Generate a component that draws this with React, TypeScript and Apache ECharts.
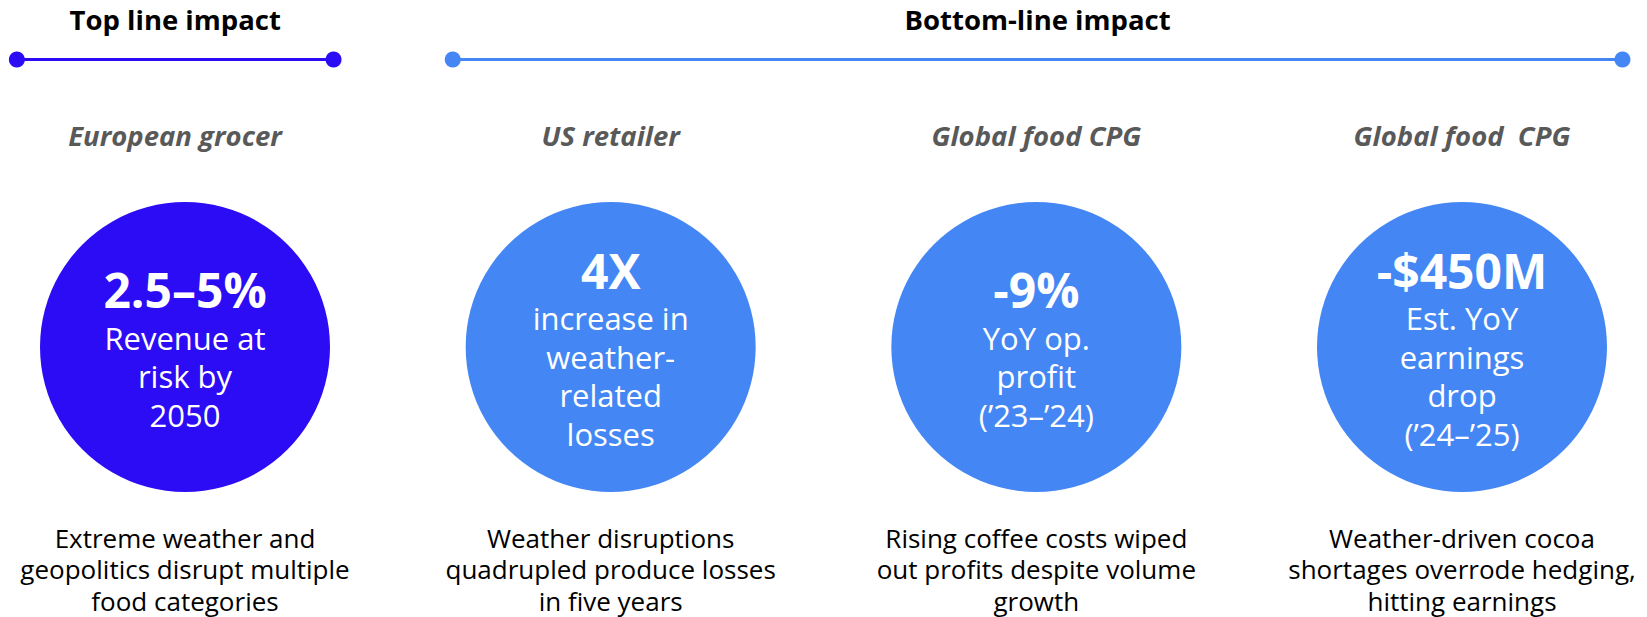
import React, { useEffect, useRef } from "react";
import * as echarts from "echarts";

// ---- data ----
const groupTitles = ["Top line impact", "Bottom-line impact"];
// timeline spans in column units (column index 0..3 = circle centres)
const topLineSpan = [-0.395, 0.349];
const bottomLineSpan = [0.629, 3.377];

const companies = ["European grocer", "US retailer", "Global food CPG", "Global food  CPG"];
const companyGroup = [0, 1, 1, 1];
const headlines = ["2.5–5%", "4X", "-9%", "-$450M"];
const descriptions = [
  ["Revenue at", "risk by", "2050"],
  ["increase in", "weather-", "related", "losses"],
  ["YoY op.", "profit", "(\u201923–\u201924)"],
  ["Est. YoY", "earnings", "drop", "(\u201924–\u201925)"],
];
const captions = [
  ["Extreme weather and", "geopolitics disrupt multiple", "food categories"],
  ["Weather disruptions", "quadrupled produce losses", "in five years"],
  ["Rising coffee costs wiped", "out profits despite volume", "growth"],
  ["Weather-driven cocoa", "shortages overrode hedging,", "hitting earnings"],
];

// ---- layout / style ----
const W = 1647;
const H = 617;
const FONT = "'Open Sans', 'Noto Sans', sans-serif";
const groupColors = ["#2C0BF5", "#4487F4"];
const ROW_HEADER = 19;
const ROW_LINE = 59.5;
const ROW_COMPANY = 135;
const ROW_CIRCLE = 347;
const ROW_CAPTION = 569;
const CIRCLE_D = 290;
const COL_LEFT = 185;
const COL_STEP = (W - 2 * COL_LEFT) / 3;

export default function App() {
  const ref = useRef<HTMLDivElement>(null);

  useEffect(() => {
    document.body.style.margin = "0";
    document.documentElement.style.overflow = "hidden";
    if (!ref.current) return;
    const chart = echarts.init(ref.current, undefined, { renderer: "svg" });

    const spans = [topLineSpan, bottomLineSpan];
    const lineSeries = spans.map((span, g) => ({
      type: "line",
      silent: true,
      clip: false,
      data: span.map((x) => [x, ROW_LINE]),
      symbol: "circle",
      symbolSize: 16,
      showSymbol: true,
      itemStyle: { color: groupColors[g], opacity: 1 },
      lineStyle: { color: groupColors[g], width: 3 },
      emphasis: { disabled: true },
      z: 2,
    }));

    const headerSeries = {
      type: "scatter",
      silent: true,
      clip: false,
      symbolSize: 0,
      itemStyle: { opacity: 1 },
      data: spans.map((span, g) => ({
        value: [(span[0] + span[1]) / 2, ROW_HEADER],
        label: { formatter: groupTitles[g] },
      })),
      label: {
        show: true,
        position: "inside",
        color: "#000",
        fontFamily: FONT,
        fontWeight: "bold",
        fontSize: 27.5,
      },
      emphasis: { disabled: true },
    };

    const companySeries = {
      type: "scatter",
      silent: true,
      clip: false,
      symbolSize: 0,
      itemStyle: { opacity: 1 },
      data: companies.map((c, i) => ({
        value: [i, ROW_COMPANY],
        label: { formatter: c, offset: i === 0 ? [-10, 0] : [0, 0] },
      })),
      label: {
        show: true,
        position: "inside",
        color: "#595959",
        fontFamily: FONT,
        fontWeight: "bold",
        fontStyle: "italic",
        fontSize: 27.5,
      },
      emphasis: { disabled: true },
    };

    const circleSeries = {
      type: "scatter",
      silent: true,
      clip: false,
      symbol: "circle",
      symbolSize: CIRCLE_D,
      itemStyle: { opacity: 1 },
      data: headlines.map((h, i) => ({
        value: [i, ROW_CIRCLE],
        itemStyle: { color: groupColors[companyGroup[i]], opacity: 1 },
        label: {
          formatter: [`{h|${h}}`, ...descriptions[i].map((d) => `{b|${d}}`)].join("\n"),
        },
      })),
      label: {
        show: true,
        position: "inside",
        align: "center",
        verticalAlign: "middle",
        color: "#fff",
        fontFamily: FONT,
        rich: {
          h: { fontFamily: FONT, fontSize: 48, fontWeight: "bold", lineHeight: 58, color: "#fff", align: "center" },
          b: { fontFamily: FONT, fontSize: 31, lineHeight: 38.5, color: "#fff", align: "center" },
        },
      },
      emphasis: { disabled: true },
      z: 3,
    };

    const captionSeries = {
      type: "scatter",
      silent: true,
      clip: false,
      symbolSize: 0,
      itemStyle: { opacity: 1 },
      data: captions.map((c, i) => ({
        value: [i, ROW_CAPTION],
        label: { formatter: c.join("\n") },
      })),
      label: {
        show: true,
        position: "inside",
        align: "center",
        verticalAlign: "middle",
        color: "#000",
        fontFamily: FONT,
        fontSize: 26,
        lineHeight: 31.5,
      },
      emphasis: { disabled: true },
    };

    chart.setOption({
      animation: false,
      backgroundColor: "#fff",
      grid: { left: 0, right: 0, top: 0, bottom: 0 },
      xAxis: {
        type: "value",
        min: -COL_LEFT / COL_STEP,
        max: 3 + COL_LEFT / COL_STEP,
        show: false,
      },
      yAxis: {
        type: "value",
        min: 0,
        max: H,
        inverse: true,
        show: false,
      },
      tooltip: { show: false },
      series: [...lineSeries, headerSeries, companySeries, circleSeries, captionSeries],
    });

    return () => chart.dispose();
  }, []);

  return <div ref={ref} style={{ width: W, height: H }} />;
}
